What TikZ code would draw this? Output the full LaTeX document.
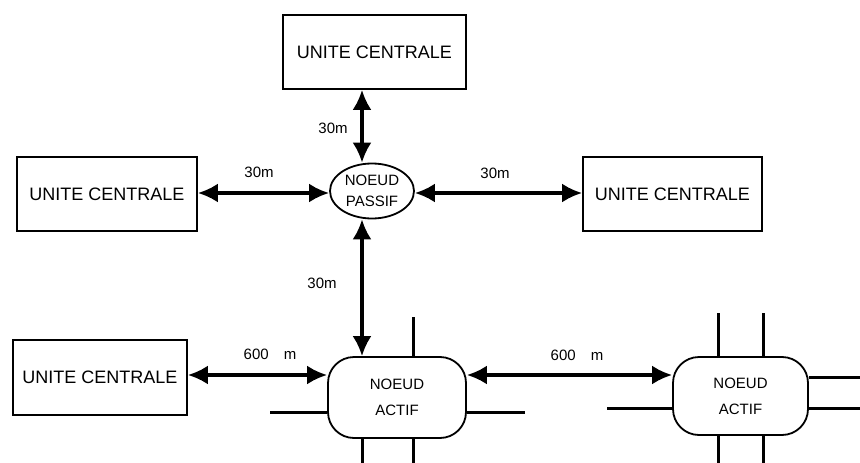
\documentclass[tikz,border=0pt]{standalone}
\usepackage{fontspec}
\setmainfont{Liberation Sans}
\usetikzlibrary{arrows.meta,shapes.geometric,calc}
\tikzset{
  box/.style={draw, line width=1.8pt, minimum width=180pt, minimum height=74pt, inner sep=0pt, font=\fontsize{18}{20}\selectfont},
  passivenode/.style={draw, ellipse, line width=1.8pt, minimum width=84pt, minimum height=55pt, inner sep=0pt, align=center, font=\fontsize{15}{21}\selectfont},
  activenode/.style={draw, rounded corners=26pt, line width=1.8pt, minimum width=137pt, minimum height=80pt, inner sep=0pt, align=center, font=\fontsize{15}{26}\selectfont},
  link/.style={line width=3.2pt, {Latex[length=20pt,width=19pt]}-{Latex[length=20pt,width=19pt]}},
  stub/.style={line width=3pt},
  lbl/.style={font=\fontsize{15}{17}\selectfont, inner sep=0pt}
}
\begin{document}
\begin{tikzpicture}[x=1pt,y=-1pt]
\useasboundingbox (0,0) rectangle (860,463);
% nodes
\node[box, minimum width=183pt] (top) at (374.5,52) {UNITE CENTRALE};
\node[box] (left) at (107,194) {UNITE CENTRALE};
\node[box, minimum width=179pt] (right) at (672.5,194) {UNITE CENTRALE};
\node[box, minimum width=174pt, minimum height=75pt] (bl) at (100,377.5) {UNITE CENTRALE};
\node[passivenode] (passive) at (372,191) {NOEUD\\PASSIF};
\node[activenode, minimum width=138pt, minimum height=81pt] (act1) at (397,397.5) {NOEUD\\ACTIF};
\node[activenode, minimum width=135pt, minimum height=78pt] (act2) at (740.5,396) {NOEUD\\ACTIF};
% helper coordinates
\coordinate (vx) at (362,0);
\coordinate (hy) at (0,375);
\coordinate (py) at (0,193);
% connectors
\draw[link] (top.south -| vx) -- (passive.north -| vx);
\draw[link] (passive.south -| vx) -- (act1.north -| vx);
\draw[link] (left.east |- py) -- (passive.west |- py);
\draw[link] (passive.east |- py) -- (right.west |- py);
\draw[link] (bl.east |- hy) -- (act1.west |- hy);
\draw[link] (act1.east |- hy) -- (act2.west |- hy);
% stubs on first active node
\coordinate (a1t) at (413,317);
\coordinate (a1b1) at (362,463);
\coordinate (a1b2) at (413,463);
\coordinate (a1l) at (270,412);
\coordinate (a1r) at (525,412);
\draw[stub] (act1.north -| a1t) -- (a1t);
\draw[stub] (act1.south -| a1b1) -- (a1b1);
\draw[stub] (act1.south -| a1b2) -- (a1b2);
\draw[stub] (act1.west |- a1l) -- (a1l);
\draw[stub] (act1.east |- a1r) -- (a1r);
% stubs on second active node
\coordinate (a2t1) at (718,313);
\coordinate (a2t2) at (763,313);
\coordinate (a2b1) at (718,463);
\coordinate (a2b2) at (763,463);
\coordinate (a2l) at (607,408);
\coordinate (a2r1) at (860,377);
\coordinate (a2r2) at (860,408);
\draw[stub] (act2.north -| a2t1) -- (a2t1);
\draw[stub] (act2.north -| a2t2) -- (a2t2);
\draw[stub] (act2.south -| a2b1) -- (a2b1);
\draw[stub] (act2.south -| a2b2) -- (a2b2);
\draw[stub] (act2.west |- a2l) -- (a2l);
\draw[stub] (act2.east |- a2r1) -- (a2r1);
\draw[stub] (act2.east |- a2r2) -- (a2r2);
% labels
\node[lbl] (l1) at (333,128) {30m};
\node[lbl] (l2) at (259,172) {30m};
\node[lbl] (l3) at (495,173) {30m};
\node[lbl] (l4) at (322,283) {30m};
\node[lbl] (l5) at (270,354) {600\quad m};
\node[lbl] (l6) at (577,355) {600\quad m};
\end{tikzpicture}
\end{document}
